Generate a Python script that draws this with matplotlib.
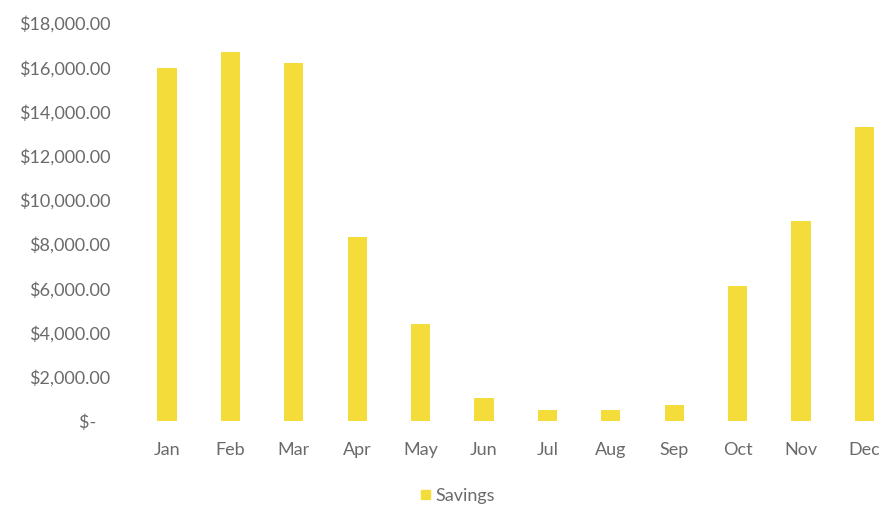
import matplotlib
matplotlib.use("Agg")
import matplotlib.pyplot as plt
from matplotlib.patches import Patch

months = ["Jan", "Feb", "Mar", "Apr", "May", "Jun", "Jul", "Aug", "Sep", "Oct", "Nov", "Dec"]
savings = [15950, 16700, 16180, 8320, 4390, 1040, 520, 520, 720, 6100, 9050, 13300]
yticks = [0, 2000, 4000, 6000, 8000, 10000, 12000, 14000, 16000, 18000]
ytick_labels = ["$-   ", "$2,000.00", "$4,000.00", "$6,000.00", "$8,000.00", "$10,000.00",
                "$12,000.00", "$14,000.00", "$16,000.00", "$18,000.00"]

plt.rcParams['font.family'] = ['Lato', 'DejaVu Sans']
W, H = 885, 512
fig = plt.figure(figsize=(W/100, H/100), dpi=100)
spacing = 63.4
left_px = 167 - spacing/2
ax = fig.add_axes([left_px/W, 1-421/H, (W-left_px)/W, (421-23)/H])
color = "#F4DC3A"
x = list(range(len(months)))
ax.bar(x, savings, width=0.3, color=color)
ax.set_xlim(-0.5, -0.5 + (W-left_px)/spacing)
ax.set_ylim(0, 18000)
ax.set_yticks(yticks)
ax.set_yticklabels(ytick_labels)
ax.set_xticks(x)
ax.set_xticklabels(months)
for s in ax.spines.values():
    s.set_visible(False)
tc = "#6a6a6a"
ax.tick_params(axis='y', length=0, pad=18, labelsize=13, labelcolor=tc)
ax.tick_params(axis='x', length=0, pad=15, labelsize=13, labelcolor=tc)
fig.legend(handles=[Patch(color=color, label="Savings")], loc="center",
           bbox_to_anchor=(458/W, 1-496/H), frameon=False, fontsize=13,
           handlelength=0.45, handleheight=0.45, handletextpad=0.3, labelcolor=tc)
fig.savefig("out.png", dpi=100)
